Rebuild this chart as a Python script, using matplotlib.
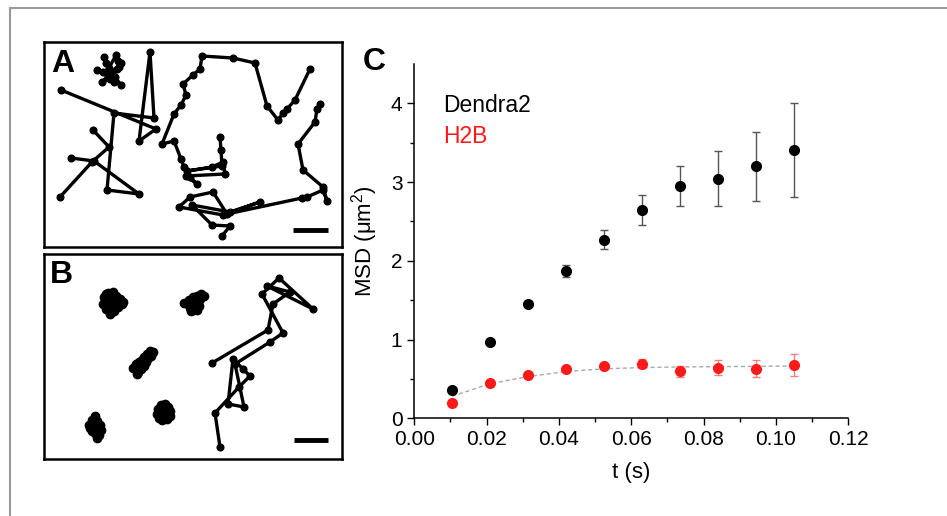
import matplotlib
matplotlib.use("Agg")
import matplotlib.pyplot as plt
from matplotlib.lines import Line2D

plt.rcParams['font.family'] = ['Liberation Sans', 'DejaVu Sans']

# ---- panel C data ----
t = [0.0105, 0.021, 0.0315, 0.042, 0.0525, 0.063, 0.0735, 0.084, 0.0945, 0.105]
dendra2 = [0.36, 0.965, 1.455, 1.87, 2.27, 2.65, 2.95, 3.045, 3.2, 3.41]
dendra2_err = [0.02, 0.02, 0.035, 0.08, 0.12, 0.19, 0.25, 0.35, 0.44, 0.6]
h2b = [0.195, 0.45, 0.55, 0.62, 0.665, 0.695, 0.595, 0.645, 0.63, 0.675]
h2b_err = [0.02, 0.02, 0.03, 0.03, 0.04, 0.06, 0.07, 0.1, 0.11, 0.14]
h2b_fit = [0.28, 0.44, 0.53, 0.595, 0.628, 0.645, 0.652, 0.656, 0.66, 0.665]

# ---- panel A trajectories (image pixel units) ----
a_cluster = [(104, 57), (106, 63), (109, 68), (116, 55), (118, 61), (121, 63), (117, 69),
             (111, 73), (97, 70), (103, 72), (108, 76), (102, 82), (110, 79), (114, 82),
             (121, 85), (115, 77), (112, 72), (119, 67)]
a_short = [(93, 130), (109, 147), (92, 162), (60, 197)]
a_spike = [(71, 158), (94, 161), (139, 194), (107, 190), (114, 113), (154, 118), (150, 52),
           (139, 141), (156, 129), (61, 90)]
a_loop = [(310, 69), (295, 100), (287, 109), (283, 113), (278, 120), (267, 106), (255, 63),
          (233, 58), (202, 56), (200, 69), (193, 75), (183, 84), (186, 95), (181, 105),
          (174, 114), (162, 144), (174, 141), (181, 159), (184, 167), (190, 177), (197, 184),
          (186, 176), (225, 174), (223, 162), (212, 167), (187, 171), (222, 166), (221, 150),
          (220, 137)]
a_right = [(320, 104), (317, 109), (315, 122), (298, 144), (303, 170), (323, 187), (327, 201),
           (323, 190), (307, 197), (302, 198), (227, 214), (213, 192), (190, 197), (179, 207),
           (223, 215), (260, 202), (230, 212), (192, 205), (212, 225), (230, 226), (222, 236)]

# ---- panel B trajectories (image pixel units) ----
b_c1 = [(104, 297), (108, 293), (113, 292), (116, 296), (120, 299), (123, 302), (122, 304),
        (118, 307), (114, 311), (110, 314), (106, 309), (103, 304), (108, 302), (112, 300),
        (115, 305), (110, 307), (105, 300), (117, 302), (113, 309), (106, 294)]
b_c2 = [(184, 303), (189, 300), (193, 297), (197, 296), (201, 294), (204, 296), (200, 299),
        (198, 303), (196, 307), (193, 310), (190, 308), (188, 304), (192, 303), (195, 300),
        (197, 310), (191, 311), (199, 306)]
b_c3 = [(133, 368), (136, 364), (139, 362), (142, 360), (144, 357), (147, 354), (150, 351),
        (153, 352), (151, 356), (148, 358), (146, 362), (144, 366), (141, 369), (138, 372),
        (136, 368), (140, 365), (143, 363), (137, 374)]
b_c4 = [(157, 414), (158, 409), (161, 405), (165, 404), (168, 407), (170, 411), (170, 416),
        (167, 419), (162, 420), (159, 418), (162, 412), (165, 410), (166, 415), (160, 415)]
b_c5 = [(89, 425), (92, 420), (95, 416), (97, 421), (100, 425), (101, 430), (99, 435),
        (97, 438), (95, 433), (92, 431), (90, 428), (94, 425), (96, 429), (93, 421)]
b_free = [(220, 447), (215, 413), (239, 387), (250, 376), (243, 369), (233, 359), (228, 404),
          (244, 407), (235, 364), (270, 342), (283, 333), (262, 294), (279, 278), (313, 309),
          (267, 286), (290, 292), (273, 304), (268, 330), (212, 363)]

W, H = 947, 516
fig = plt.figure(figsize=(9.47, 5.16), dpi=100)

# outer grey frame (top and left)
fig.add_artist(Line2D([10 / W, 1], [1 - 8 / H, 1 - 8 / H], color='#9a9a9a', lw=1.5))
fig.add_artist(Line2D([10 / W, 10 / W], [0, 1 - 8 / H], color='#9a9a9a', lw=1.5))


def track_panel(box, tracks, blobs, bar):
    x0, y0, x1, y1 = box
    ax = fig.add_axes([x0 / W, 1 - y1 / H, (x1 - x0) / W, (y1 - y0) / H])
    for tr in tracks:
        xs, ys = zip(*tr)
        ax.plot(xs, ys, '-o', color='black', lw=2.4, ms=4.8)
    for tr in blobs:
        xs, ys = zip(*tr)
        ax.plot(xs, ys, '-o', color='black', lw=3, ms=6)
    ax.plot(bar[0], bar[1], color='black', lw=3.5, solid_capstyle='butt')
    ax.set_xlim(x0, x1)
    ax.set_ylim(y1, y0)
    ax.set_xticks([])
    ax.set_yticks([])
    for s in ax.spines.values():
        s.set_linewidth(1.8)
    return ax


track_panel((44, 42, 342, 247), [a_cluster, a_short, a_spike, a_loop, a_right], [],
            ([293, 328], [230, 230]))
track_panel((44, 254, 342, 459), [b_free], [b_c1, b_c2, b_c3, b_c4, b_c5],
            ([294, 328], [440, 440]))

fig.text(51 / W, 1 - 49 / H, 'A', fontsize=23, fontweight='bold', va='top', ha='left')
fig.text(50 / W, 1 - 260 / H, 'B', fontsize=23, fontweight='bold', va='top', ha='left')
fig.text(363 / W, 1 - 47 / H, 'C', fontsize=23, fontweight='bold', va='top', ha='left')

# ---- panel C ----
ax = fig.add_axes([414.3 / W, 1 - 418.3 / H, 434 / W, 354.3 / H])
ax.plot(t, h2b_fit, linestyle=(0, (3, 2)), color='#aaaaaa', lw=1, zorder=1)
ax.errorbar(t, dendra2, yerr=dendra2_err, fmt='o', color='black', ecolor='#555555',
            elinewidth=1, capsize=3, capthick=1, ms=7, zorder=3)
ax.errorbar(t, h2b, yerr=h2b_err, fmt='o', color='#ff1a1a', ecolor='#f08080',
            elinewidth=1, capsize=3, capthick=1, ms=7, zorder=3)
ax.set_xlim(0, 0.12)
ax.set_ylim(0, 4.5)
ax.set_xticks([0.00, 0.02, 0.04, 0.06, 0.08, 0.10, 0.12])
ax.set_xticklabels(['0.00', '0.02', '0.04', '0.06', '0.08', '0.10', '0.12'])
ax.set_xticks([0.01, 0.03, 0.05, 0.07, 0.09, 0.11], minor=True)
ax.set_yticks([0, 1, 2, 3, 4])
ax.set_yticks([0.5, 1.5, 2.5, 3.5], minor=True)
ax.spines['top'].set_visible(False)
ax.spines['right'].set_visible(False)
for s in ('left', 'bottom'):
    ax.spines[s].set_linewidth(1.1)
ax.tick_params(which='major', length=5, width=1, labelsize=15, direction='out')
ax.tick_params(which='minor', length=3, width=1, direction='out')
ax.set_xlabel('t (s)', fontsize=16, labelpad=9)
ax.set_ylabel('MSD ($\\mathregular{\\mu m^2}$)', fontsize=16, labelpad=8)
ax.text(0.0079, 3.97, 'Dendra2', fontsize=16.5, color='black', va='center')
ax.text(0.0079, 3.58, 'H2B', fontsize=16.5, color='#ff1a1a', va='center')

fig.savefig('out.png', dpi=100)
